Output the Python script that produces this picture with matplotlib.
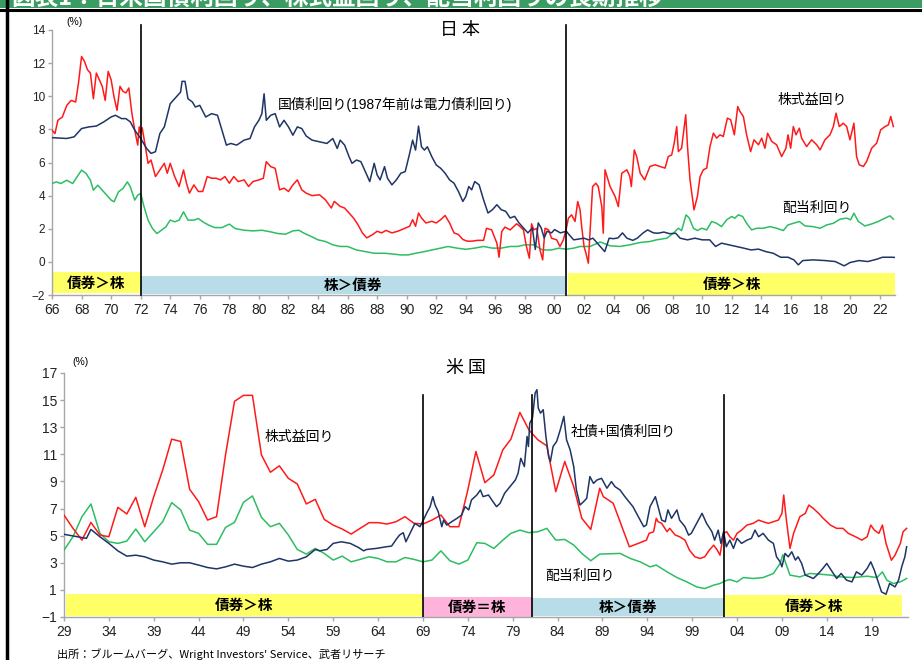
import matplotlib
matplotlib.use("Agg")
import matplotlib.pyplot as plt
from matplotlib.patches import Rectangle

plt.rcParams["font.family"] = ["Liberation Sans", "Noto Sans CJK JP"]

# ---------------- Japan (top panel) ----------------
JP_BOND_YR = [1966.0, 1967.0, 1967.5, 1968.0, 1968.5, 1969.0, 1969.5, 1970.0, 1970.3, 1970.7, 1971.0, 1971.3,
              1971.6, 1972.0, 1972.4, 1972.7, 1973.0, 1973.3, 1973.6, 1974.0, 1974.4, 1974.7, 1974.8, 1975.0,
              1975.2, 1975.5, 1975.7, 1976.0, 1976.4, 1976.8, 1977.2, 1977.5, 1977.8, 1978.1, 1978.5, 1979.0,
              1979.4, 1979.7, 1980.0, 1980.2, 1980.35, 1980.5, 1980.8, 1981.1, 1981.4, 1981.7, 1982.0, 1982.3,
              1982.6, 1982.9, 1983.2, 1983.6, 1984.1, 1984.6, 1985.0, 1985.3, 1985.5, 1985.8, 1986.1, 1986.3,
              1986.6, 1986.9, 1987.2, 1987.5, 1987.8, 1988.0, 1988.2, 1988.5, 1988.7, 1989.0, 1989.3, 1989.6,
              1989.9, 1990.2, 1990.4, 1990.6, 1990.8, 1991.0, 1991.2, 1991.4, 1991.7, 1992.0, 1992.3, 1992.6,
              1992.9, 1993.2, 1993.5, 1993.8, 1994.0, 1994.2, 1994.4, 1994.6, 1994.9, 1995.2, 1995.5, 1995.8,
              1996.1, 1996.4, 1996.7, 1997.0, 1997.3, 1997.6, 1997.9, 1998.2, 1998.5, 1998.7, 1998.9, 1999.1,
              1999.3, 1999.5, 1999.8, 2000.0, 2000.4, 2000.8, 2001.0, 2001.3, 2001.6, 2002.0, 2002.3, 2002.6,
              2002.9, 2003.2, 2003.4, 2003.7, 2004.0, 2004.3, 2004.6, 2004.9, 2005.3, 2005.6, 2006.0, 2006.3,
              2006.7, 2007.0, 2007.4, 2007.8, 2008.2, 2008.5, 2009.0, 2009.5, 2010.0, 2010.5, 2010.9, 2011.3,
              2011.8, 2012.3, 2012.8, 2013.3, 2013.8, 2014.3, 2014.8, 2015.3, 2015.8, 2016.2, 2016.5, 2016.8,
              2017.5, 2018.3, 2019.0, 2019.6, 2020.0, 2020.6, 2021.2, 2021.8, 2022.2, 2022.8, 2023.0]
JP_BOND = [7.5, 7.45, 7.55, 8.05, 8.15, 8.2, 8.45, 8.75, 8.85, 8.65, 8.65, 8.45,
           7.95, 7.45, 6.85, 6.55, 6.65, 7.75, 8.15, 9.55, 9.95, 10.25, 10.9, 10.9,
           9.85, 9.65, 9.35, 9.45, 8.75, 8.95, 8.85, 7.95, 7.05, 7.15, 7.05, 7.35,
           7.45, 8.15, 8.55, 8.95, 10.15, 8.55, 8.85, 8.95, 8.15, 8.55, 8.15, 7.65,
           8.15, 8.05, 7.6, 7.35, 7.25, 7.15, 7.45, 6.85, 7.35, 7.05, 6.35, 5.95,
           6.15, 6.05, 5.45, 4.85, 5.95, 5.25, 4.95, 5.75, 5.05, 4.65, 4.95, 5.35,
           5.45, 6.55, 7.35, 6.75, 8.2, 6.95, 6.75, 6.95, 6.35, 5.85, 5.65, 5.35,
           4.95, 4.75, 4.25, 3.65, 3.95, 4.55, 4.35, 4.85, 4.65, 3.75, 2.95, 3.15,
           3.45, 3.15, 3.05, 2.65, 2.75, 2.35, 2.05, 1.75, 2.05, 0.75, 2.35, 2.05,
           1.45, 1.85, 1.75, 1.95, 1.75, 1.85, 1.63, 1.33, 1.37, 1.43, 1.33, 1.43,
           1.13, 0.83, 0.62, 1.43, 1.4, 1.45, 1.75, 1.43, 1.3, 1.43, 1.75, 1.93,
           1.75, 1.73, 1.8, 1.7, 1.73, 1.43, 1.33, 1.43, 1.33, 1.33, 0.93, 1.13,
           1.03, 0.93, 0.83, 0.72, 0.77, 0.62, 0.52, 0.28, 0.28, 0.12, -0.18, 0.08,
           0.12, 0.08, 0.02, -0.24, -0.04, 0.08, 0.02, 0.16, 0.28, 0.28, 0.27]

JP_EY_YR = [1966.0, 1966.2, 1966.4, 1966.7, 1967.0, 1967.3, 1967.6, 1967.8, 1968.0, 1968.2, 1968.4, 1968.6,
            1968.8, 1969.0, 1969.2, 1969.4, 1969.6, 1969.8, 1970.0, 1970.2, 1970.4, 1970.6, 1970.8, 1971.0,
            1971.2, 1971.4, 1971.6, 1971.8, 1971.9, 1972.0, 1972.1, 1972.3, 1972.5, 1972.7, 1973.0, 1973.3,
            1973.6, 1973.8, 1974.0, 1974.3, 1974.6, 1974.9, 1975.1, 1975.3, 1975.6, 1975.9, 1976.2, 1976.5,
            1976.8, 1977.1, 1977.4, 1977.7, 1978.0, 1978.3, 1978.6, 1979.0, 1979.3, 1979.6, 1980.0, 1980.3,
            1980.5, 1980.8, 1981.1, 1981.4, 1981.7, 1982.0, 1982.3, 1982.6, 1982.9, 1983.2, 1983.6, 1984.1,
            1984.5, 1984.9, 1985.1, 1985.5, 1985.8, 1986.1, 1986.4, 1986.7, 1987.0, 1987.3, 1987.7, 1988.0,
            1988.3, 1988.6, 1989.0, 1989.4, 1989.8, 1990.2, 1990.4, 1990.6, 1990.8, 1991.0, 1991.3, 1991.7,
            1992.0, 1992.3, 1992.6, 1992.9, 1993.2, 1993.5, 1993.8, 1994.1, 1994.4, 1994.8, 1995.2, 1995.4,
            1995.75, 1996.1, 1996.25, 1996.43, 1996.65, 1997.0, 1997.2, 1997.44, 1997.67, 1997.9, 1998.1, 1998.3,
            1998.45, 1998.6, 1998.8, 1999.02, 1999.2, 1999.36, 1999.6, 1999.8, 2000.15, 2000.37, 2000.6, 2000.78,
            2000.94, 2001.16, 2001.39, 2001.57, 2001.73, 2001.84, 2002.0, 2002.13, 2002.29, 2002.4, 2002.58, 2002.8,
            2002.96, 2003.2, 2003.3, 2003.42, 2003.76, 2004.1, 2004.32, 2004.55, 2004.9, 2005.1, 2005.2, 2005.4,
            2005.56, 2005.8, 2006.1, 2006.46, 2006.8, 2007.14, 2007.48, 2007.7, 2007.93, 2008.1, 2008.27, 2008.38,
            2008.6, 2008.88, 2009.0, 2009.17, 2009.44, 2009.67, 2009.85, 2010.07, 2010.3, 2010.52, 2010.75, 2010.97,
            2011.2, 2011.42, 2011.7, 2011.92, 2012.17, 2012.4, 2012.55, 2012.78, 2013.0, 2013.27, 2013.5, 2013.8,
            2014.02, 2014.24, 2014.42, 2014.7, 2015.03, 2015.37, 2015.66, 2015.8, 2015.98, 2016.16, 2016.34, 2016.57,
            2016.72, 2017.06, 2017.4, 2017.74, 2017.97, 2018.3, 2018.64, 2018.87, 2019.05, 2019.27, 2019.54, 2019.77,
            2019.99, 2020.26, 2020.44, 2020.62, 2020.9, 2021.12, 2021.46, 2021.8, 2022.07, 2022.36, 2022.59, 2022.75,
            2022.93]
JP_EY = [7.95, 7.75, 8.55, 8.75, 9.45, 9.75, 9.65, 10.85, 12.4, 12.1, 11.6, 11.4,
         9.85, 11.4, 11.0, 10.6, 9.75, 11.5, 11.0, 9.95, 9.15, 10.6, 10.3, 10.2,
         10.5, 9.0, 7.95, 7.05, 8.15, 7.75, 8.1, 7.05, 5.95, 6.15, 5.15, 5.55,
         5.95, 5.35, 5.95, 5.15, 4.55, 5.55, 4.75, 4.15, 4.65, 4.25, 4.25, 5.15,
         5.05, 5.05, 4.95, 5.15, 4.75, 5.15, 4.85, 4.95, 4.55, 4.85, 4.95, 5.05,
         6.05, 5.75, 5.65, 4.35, 4.45, 4.25, 4.65, 4.95, 4.35, 4.15, 4.0, 4.05,
         3.75, 3.25, 3.65, 3.35, 3.25, 2.95, 2.65, 2.25, 1.75, 1.45, 1.65, 1.85,
         1.75, 1.9, 1.75, 1.85, 2.0, 2.15, 2.55, 2.15, 2.95, 2.65, 2.35, 2.45,
         2.35, 2.55, 2.8, 2.35, 1.75, 1.65, 1.35, 1.25, 1.25, 1.3, 1.3, 2.03,
         1.93, 1.13, 0.28, 1.83, 2.1, 1.93, 2.1, 2.3, 2.13, 1.93, 0.93, 0.22,
         2.3, 1.93, 2.03, 0.72, 0.12, 2.03, 1.93, 1.43, 1.33, 0.93, 1.33, 1.93,
         2.64, 2.84, 2.44, 3.64, 3.14, 2.13, 0.93, 0.52, -0.08, 1.73, 4.55, 4.75,
         4.55, 3.34, 1.73, 5.56, 4.55, 3.95, 3.34, 5.35, 5.56, 5.15, 4.55, 6.76,
         6.36, 5.35, 4.95, 5.76, 5.86, 5.76, 5.66, 6.36, 6.46, 7.17, 8.17, 6.66,
         6.86, 8.88, 6.96, 4.95, 3.14, 3.95, 5.15, 5.56, 5.66, 6.96, 7.77, 7.47,
         7.67, 7.57, 8.68, 8.58, 7.67, 9.38, 9.08, 8.78, 7.67, 6.66, 7.37, 7.07,
         7.47, 6.86, 7.77, 7.27, 7.07, 6.36, 6.86, 7.67, 6.86, 8.17, 7.67, 8.07,
         7.47, 6.96, 7.37, 7.07, 6.76, 7.37, 7.67, 8.17, 8.98, 8.17, 8.37, 8.17,
         7.37, 8.37, 6.36, 5.86, 5.76, 6.06, 6.86, 7.17, 7.97, 8.17, 8.27, 8.78,
         8.17]

JP_DY_YR = [1966.0, 1966.3, 1966.6, 1967.0, 1967.4, 1967.7, 1968.0, 1968.3, 1968.6, 1968.8, 1969.1, 1969.4,
            1969.7, 1970.0, 1970.2, 1970.5, 1970.8, 1971.1, 1971.3, 1971.6, 1971.8, 1972.0, 1972.2, 1972.5,
            1972.8, 1973.1, 1973.4, 1973.7, 1974.0, 1974.3, 1974.6, 1974.9, 1975.2, 1975.6, 1975.9, 1976.2,
            1976.6, 1977.0, 1977.5, 1978.0, 1978.4, 1979.0, 1979.6, 1980.2, 1980.8, 1981.3, 1981.8, 1982.3,
            1982.7, 1983.1, 1983.5, 1984.0, 1984.5, 1985.0, 1985.5, 1986.0, 1986.6, 1987.2, 1987.8, 1988.5,
            1989.0, 1989.6, 1990.1, 1990.6, 1991.2, 1991.7, 1992.3, 1992.8, 1993.4, 1994.0, 1994.6, 1995.2,
            1995.8, 1996.4, 1997.0, 1997.5, 1998.0, 1998.6, 1999.2, 1999.8, 2000.3, 2000.8, 2001.3, 2001.73,
            2002.4, 2003.1, 2003.76, 2004.43, 2005.1, 2005.8, 2006.46, 2006.9, 2007.6, 2008.04, 2008.38, 2008.6,
            2008.9, 2009.12, 2009.4, 2009.67, 2009.96, 2010.3, 2010.64, 2010.97, 2011.3, 2011.65, 2011.99, 2012.2,
            2012.44, 2012.73, 2013.0, 2013.34, 2013.68, 2014.13, 2014.58, 2015.03, 2015.48, 2015.8, 2016.16, 2016.57,
            2016.95, 2017.5, 2017.97, 2018.42, 2018.87, 2019.32, 2019.77, 2020.04, 2020.26, 2020.56, 2021.0, 2021.46,
            2021.91, 2022.36, 2022.7, 2022.93]
JP_DY = [4.73, 4.83, 4.73, 4.93, 4.73, 5.14, 5.54, 5.34, 4.93, 4.33, 4.63, 4.33,
         4.03, 3.73, 3.63, 4.23, 4.43, 4.83, 4.53, 3.73, 4.03, 4.13, 3.42, 2.52,
         2.01, 1.71, 1.91, 2.11, 2.52, 2.42, 2.52, 3.02, 2.52, 2.52, 2.62, 2.42,
         2.22, 2.07, 2.07, 2.28, 2.01, 1.91, 1.87, 1.91, 1.81, 1.71, 1.67, 1.87,
         1.91, 1.71, 1.55, 1.33, 1.23, 1.03, 0.93, 0.93, 0.72, 0.62, 0.52, 0.52,
         0.48, 0.42, 0.42, 0.52, 0.62, 0.72, 0.83, 0.93, 0.83, 0.76, 0.83, 0.93,
         0.83, 0.83, 0.93, 0.93, 1.03, 1.03, 0.72, 0.72, 0.83, 0.76, 0.83, 0.93,
         0.93, 1.2, 0.97, 0.93, 1.03, 1.17, 1.23, 1.33, 1.43, 1.73, 2.03, 1.89,
         2.84, 2.64, 2.03, 1.89, 2.03, 1.93, 2.44, 2.33, 2.13, 2.54, 2.74, 2.64,
         2.84, 2.74, 2.33, 1.93, 2.03, 2.03, 2.13, 2.03, 1.89, 2.23, 2.33, 2.44,
         2.17, 2.13, 2.03, 2.23, 2.33, 2.58, 2.64, 2.54, 2.94, 2.44, 2.17, 2.29,
         2.44, 2.64, 2.78, 2.58]

# ---------------- United States (bottom panel) ----------------
US_EY_YR = [1929, 1930, 1931, 1932, 1933, 1934, 1935, 1936, 1937, 1938, 1939, 1940, 1941, 1942, 1943, 1944,
            1945, 1946, 1947, 1948, 1949, 1950, 1951, 1952, 1953, 1954, 1955, 1956, 1957, 1958, 1959, 1960,
            1961, 1962, 1963, 1964, 1965, 1966, 1967, 1968, 1969, 1970, 1971, 1972, 1973, 1974, 1974.9, 1975.9,
            1976.9, 1977.9, 1978.8, 1979.8, 1980.8, 1981.8, 1982.8, 1983.8, 1984.8, 1985.8, 1986.7, 1987.7,
            1988.7, 1989.1, 1990.2, 1992.0, 1993.0, 1993.9, 1994.2, 1994.7, 1995.0, 1995.2, 1995.6, 1996.2,
            1996.5, 1997.1, 1997.6, 1998.2, 1998.7, 1999.3, 1999.9, 2000.4, 2000.9, 2001.4, 2001.8, 2002.1,
            2002.5, 2002.85, 2003.2, 2003.6, 2004.0, 2004.5, 2005.1, 2005.8, 2006.4, 2006.9, 2007.5, 2008.05,
            2008.6, 2009.0, 2009.2, 2009.5, 2009.9, 2010.3, 2011.0, 2011.6, 2012.0, 2012.5, 2013.1, 2013.6,
            2014.4, 2015.1, 2015.8, 2016.4, 2017.2, 2017.9, 2018.5, 2018.9, 2019.3, 2019.8, 2020.2, 2020.6,
            2021.2, 2021.6, 2022.2, 2022.5, 2022.9]
US_EY = [6.52, 5.54, 4.67, 5.98, 5.05, 4.92, 7.09, 6.6, 7.83, 5.66, 7.88, 9.85, 12.12, 11.95, 8.42, 7.51,
         6.15, 6.4, 10.96, 14.91, 15.35, 15.35, 10.96, 9.68, 10.15, 9.23, 8.81, 7.34, 7.68, 6.2, 5.78, 5.49,
         5.12, 5.54, 5.96, 5.96, 5.86, 6.03, 6.4, 5.91, 5.86, 6.15, 6.52, 5.66, 5.66, 8.37, 11.21, 8.91,
         9.48, 11.33, 12.12, 14.09, 12.81, 12.07, 11.63, 8.25, 10.47, 8.62, 6.28, 5.46,
         8.5, 7.88, 7.39, 4.18, 4.43, 4.67, 5.17, 5.29, 6.28, 6.03, 5.91, 5.29,
         5.54, 5.05, 4.92, 4.67, 3.93, 3.44, 3.32, 3.44, 3.93, 4.3, 3.93, 3.56,
         5.17, 5.29, 4.92, 4.67, 5.17, 5.41, 5.78, 5.91, 6.15, 6.03, 5.91, 6.03,
         6.15, 6.64, 8.0, 6.15, 4.06, 5.17, 6.4, 6.64, 7.26, 7.01, 6.64, 6.28,
         5.78, 5.54, 5.54, 5.17, 4.92, 4.67, 4.92, 5.78, 5.41, 5.17, 5.78, 4.43,
         3.19, 3.56, 4.43, 5.29, 5.54]

US_DY_YR = [1929, 1930, 1931, 1932, 1933, 1934, 1935, 1936, 1937, 1938, 1939, 1940, 1941, 1942, 1943, 1944,
            1945, 1946, 1947, 1948, 1949, 1950, 1951, 1952, 1953, 1954, 1955, 1956, 1957, 1958, 1959, 1960,
            1961, 1962, 1963, 1964, 1965, 1966, 1967, 1968, 1969, 1970, 1971, 1972, 1973, 1974, 1975, 1975.9,
            1976.9, 1977.9, 1978.8, 1979.8, 1980.8, 1981.8, 1982.8, 1983.8, 1984.8, 1985.8, 1986.7, 1987.7,
            1988.7, 1990.96, 1992.1, 1993.2, 1994.3, 1995.0, 1996.2, 1997.3, 1998.4, 1999.5, 2000.4, 2001.4,
            2002.1, 2002.7, 2003.2, 2004.0, 2004.7, 2005.8, 2006.9, 2008.05, 2008.8, 2009.1, 2009.5, 2009.9,
            2011.0, 2012.1, 2013.2, 2014.4, 2015.5, 2017.0, 2018.5, 2019.6, 2020.2, 2020.7, 2021.4, 2022.2,
            2022.9]
US_DY = [3.93, 4.92, 6.4, 7.34, 5.17, 4.55, 4.43, 4.6, 5.49, 4.55, 5.29, 6.03, 7.44, 6.9, 5.41, 5.17,
         4.36, 4.36, 5.61, 5.98, 7.46, 7.93, 6.35, 5.66, 5.91, 5.05, 3.98, 3.64, 4.06, 3.69, 3.2, 3.49,
         3.07, 3.25, 3.44, 3.32, 3.07, 3.07, 3.39, 3.25, 3.07, 3.2, 3.88, 3.15, 2.9, 3.2, 4.48, 4.43,
         4.06, 4.67, 5.17, 5.41, 5.22, 5.29, 5.54, 4.67, 4.72, 4.31, 3.69, 3.15,
         3.64, 3.69, 3.32, 3.07, 2.7, 2.83, 2.33, 1.91, 1.59, 1.22, 1.1, 1.35,
         1.47, 1.67, 1.76, 1.59, 1.91, 1.84, 1.91, 2.21, 2.95, 3.6, 2.83, 2.09,
         1.96, 2.21, 2.16, 2.09, 1.96, 1.91, 2.01, 1.91, 2.33, 1.71, 1.47, 1.59,
         1.84]

US_BOND_YR = [1929.0, 1930.5, 1931.5, 1932.0, 1933.0, 1934.0, 1935.0, 1936.0, 1937.0, 1938.0, 1939.0, 1940.0,
              1941.0, 1942.0, 1943.0, 1944.0, 1945.0, 1946.0, 1947.0, 1948.0, 1949.0, 1950.0, 1951.0, 1952.0,
              1953.0, 1954.0, 1955.0, 1956.0, 1957.0, 1957.5, 1958.3, 1959.0, 1959.9, 1960.9, 1961.8, 1962.4,
              1962.7, 1963.8, 1964.9, 1965.5, 1966.1, 1966.4, 1966.8, 1967.1, 1967.56, 1968.1, 1968.67, 1969.05,
              1969.4, 1969.8, 1970.1, 1970.35, 1970.7, 1971.1, 1971.3, 1971.65, 1972.2, 1972.8, 1973.3, 1973.7,
              1974.1, 1974.4, 1975.0, 1975.4, 1975.7, 1976.3, 1976.8, 1977.2, 1977.6, 1978.1, 1978.7, 1979.3,
              1979.6, 1979.9, 1980.3, 1980.6, 1980.75, 1980.9, 1981.2, 1981.5, 1981.7, 1981.85, 1982.1, 1982.4,
              1982.7, 1983.0, 1983.2, 1983.5, 1983.9, 1984.3, 1984.7, 1985.0, 1985.4, 1985.8, 1986.1, 1986.5,
              1986.9, 1987.25, 1987.6, 1988.0, 1988.4, 1988.9, 1989.5, 1990.0, 1990.4, 1990.96, 1991.5, 1992.1,
              1992.4, 1992.8, 1993.6, 1993.9, 1994.3, 1994.9, 1995.2, 1995.6, 1996.0, 1996.3, 1996.7, 1997.3,
              1997.6, 1998.2, 1998.6, 1998.9, 1999.5, 2000.1, 2000.6, 2001.2, 2001.5, 2001.9, 2002.2, 2002.5,
              2002.8, 2003.2, 2003.6, 2004.0, 2004.5, 2005.1, 2005.6, 2006.0, 2006.4, 2006.9, 2007.5, 2008.05,
              2008.4, 2008.8, 2009.0, 2009.35, 2009.7, 2010.1, 2010.5, 2010.8, 2011.2, 2011.6, 2012.1, 2012.5,
              2012.9, 2013.4, 2014.0, 2014.5, 2015.1, 2015.6, 2016.2, 2016.8, 2017.3, 2017.9, 2018.5, 2018.9,
              2019.3, 2019.6, 2020.1, 2020.6, 2021.0, 2021.6, 2022.0, 2022.35, 2022.7, 2022.9]
US_BOND = [5.1, 4.92, 4.8, 5.46, 4.92, 4.43, 3.88, 3.49, 3.56, 3.44, 3.2, 3.07,
           2.9, 3.0, 3.0, 2.83, 2.65, 2.55, 2.7, 2.9, 2.75, 2.65, 2.9, 3.07,
           3.32, 3.12, 3.2, 3.44, 3.98, 3.88, 3.98, 4.43, 4.55, 4.43, 4.13, 3.88,
           3.98, 4.06, 4.18, 4.23, 4.8, 5.05, 5.22, 4.55, 5.17, 5.9, 5.66, 6.15,
           6.65, 7.14, 7.88, 7.26, 6.77, 5.66, 6.15, 5.78, 6.03, 6.28, 6.52, 7.14,
           6.9, 7.63, 8.0, 8.37, 7.88, 8.0, 7.51, 7.14, 7.39, 8.13, 8.62, 9.11,
           9.6, 10.71, 10.1, 12.32, 11.58, 13.3, 13.67, 15.52, 15.77, 14.41, 14.04, 14.29,
           12.32, 10.84, 10.47, 11.58, 11.95, 12.81, 13.8, 12.07, 11.33, 10.1, 8.37, 7.26,
           7.51, 7.76, 9.36, 8.86, 9.11, 9.23, 8.5, 8.99, 8.62, 8.37, 7.88, 7.39,
           7.14, 6.65, 5.66, 5.79, 7.14, 7.88, 7.14, 6.15, 6.03, 6.9, 6.28, 6.9,
           6.15, 5.66, 5.04, 5.17, 5.91, 6.65, 5.91, 5.29, 4.67, 5.41, 4.43, 5.29,
           4.18, 4.67, 4.06, 4.8, 4.43, 4.67, 4.8, 5.41, 4.92, 5.17, 4.67, 4.43,
           3.44, 3.07, 2.7, 3.69, 3.44, 3.81, 3.2, 3.44, 2.95, 2.09, 1.96, 1.84,
           2.09, 2.45, 2.95, 2.45, 1.84, 2.21, 1.72, 1.59, 2.33, 2.09, 2.58, 3.07,
           2.45, 1.84, 0.85, 0.68, 1.47, 1.22, 1.72, 2.7, 3.44, 4.18]

# regime bands: start, end, low, high, colour key, label
JP_BANDS = [(1966.0, 1971.95, -1.9, -0.6, "y", "債券＞株"),
            (1972.0, 2000.7, -1.93, -0.83, "b", "株＞債券"),
            (2000.93, 2023.1, -2.0, -0.67, "y", "債券＞株")]
US_BANDS = [(1929.2, 1968.9, -0.95, 0.7, "y", "債券＞株"),
            (1969.0, 1981.1, -1.0, 0.48, "p", "債券＝株"),
            (1981.2, 2002.5, -0.95, 0.4, "b", "株＞債券"),
            (2002.7, 2022.4, -0.95, 0.65, "y", "債券＞株")]
JP_SPLITS = [1972.0, 2000.8]
US_SPLITS = [1969.0, 1981.1, 2002.6]

RED = "#ff1a1a"
NAVY = "#1f3566"
GREEN = "#2dbe63"
BAND_COLORS = {"y": "#ffff66", "b": "#b9dde8", "p": "#ffb3da"}
AXIS_GRAY = "#a6a6a6"
JP_FONT = ["Noto Sans CJK JP", "DejaVu Sans"]


def style_axes(ax, xlim, ylim, yticks, xticks, xlabels, ysize):
    ax.set_xlim(*xlim)
    ax.set_ylim(*ylim)
    for s in ("top", "right"):
        ax.spines[s].set_visible(False)
    for s in ("left", "bottom"):
        ax.spines[s].set_color(AXIS_GRAY)
        ax.spines[s].set_linewidth(1.0)
    ax.set_yticks(yticks)
    ax.set_xticks(xticks)
    ax.set_xticklabels(xlabels)
    ax.tick_params(axis="both", color=AXIS_GRAY, length=3, width=1, colors="#222222")
    ax.tick_params(axis="y", labelsize=ysize, pad=2)
    ax.tick_params(axis="x", labelsize=10, pad=3)
    ax.patch.set_alpha(0)


def draw_bands(ax, bands):
    for x0, x1, lo, hi, c, lab in bands:
        ax.add_patch(Rectangle((x0, lo), x1 - x0, hi - lo, color=BAND_COLORS[c], lw=0, zorder=1))
        ax.text((x0 + x1) / 2, (lo + hi) / 2, lab, ha="center", va="center", fontsize=10.5,
                fontweight="bold", family=JP_FONT, zorder=5)


fig = plt.figure(figsize=(9.22, 6.6), dpi=100)

# green title strip (mostly cut off) and frame lines
fig.patches.append(Rectangle((0, 1 - 8 / 660), 1, 8 / 660, transform=fig.transFigure,
                             color="#3a9c62", lw=0))
fig.text(0.012, 1 - 5 / 660, "図表1：日米国債利回り、株式益回り、配当利回りの長期推移",
         color="white", fontsize=17, fontweight="bold", family=JP_FONT, va="baseline")
fig.add_artist(plt.Line2D([0, 1], [1 - 9.5 / 660] * 2, transform=fig.transFigure, color="black", lw=2.2))
fig.add_artist(plt.Line2D([6.5 / 922] * 2, [0, 1], transform=fig.transFigure, color="black", lw=2.5))

# ---- Japan ----
ax1 = fig.add_axes([52 / 922, 1 - 295 / 660, 843 / 922, 265 / 660])
jp_years = list(range(1966, 2023, 2))
style_axes(ax1, (1966, 2023.04), (-2, 14), range(-2, 15, 2), jp_years,
           [f"{y % 100:02d}" for y in jp_years], 8.5)
draw_bands(ax1, JP_BANDS)
ax1.plot(JP_DY_YR, JP_DY, color=GREEN, lw=1.1, zorder=3)
ax1.plot(JP_EY_YR, JP_EY, color=RED, lw=1.1, zorder=3)
ax1.plot(JP_BOND_YR, JP_BOND, color=NAVY, lw=1.1, zorder=4)
for x in JP_SPLITS:
    ax1.plot([x, x], [-2, 14.3], color="black", lw=1.2, clip_on=False, zorder=6)
ax1.text(1993.6, 14.0, "日 本", ha="center", va="center", fontsize=13, family=JP_FONT)
ax1.text(1981.3, 9.48, "国債利回り(1987年前は電力債利回り)", ha="left", va="center", fontsize=10)
ax1.text(2015.1, 9.78, "株式益回り", ha="left", va="center", fontsize=10, family=JP_FONT)
ax1.text(2015.4, 3.26, "配当利回り", ha="left", va="center", fontsize=10, family=JP_FONT)
ax1.text(1967.0, 14.5, "(%)", ha="left", va="center", fontsize=7.5, clip_on=False)

# ---- United States ----
ax2 = fig.add_axes([64 / 922, 1 - 617 / 660, 844 / 922, 244 / 660])
us_years = list(range(1929, 2020, 5))
style_axes(ax2, (1929, 2023.05), (-1, 17), range(-1, 18, 2), us_years,
           [f"{y % 100:02d}" for y in us_years], 10)
draw_bands(ax2, US_BANDS)
ax2.plot(US_DY_YR, US_DY, color=GREEN, lw=1.1, zorder=3)
ax2.plot(US_EY_YR, US_EY, color=RED, lw=1.1, zorder=3)
ax2.plot(US_BOND_YR, US_BOND, color=NAVY, lw=1.1, zorder=4)
for x in US_SPLITS:
    ax2.plot([x, x], [-1, 15.4], color="black", lw=1.2, zorder=6)
ax2.text(1973.8, 17.4, "米 国", ha="center", va="center", fontsize=13, family=JP_FONT, clip_on=False)
ax2.text(1951.4, 12.3, "株式益回り", ha="left", va="center", fontsize=10, family=JP_FONT)
ax2.text(1985.5, 12.66, "社債+国債利回り", ha="left", va="center", fontsize=10)
ax2.text(1982.6, 2.01, "配当利回り", ha="left", va="center", fontsize=10, family=JP_FONT)
ax2.text(1929.9, 17.8, "(%)", ha="left", va="center", fontsize=7.5, clip_on=False)

fig.text(57 / 922, 1 - 654 / 660, "出所：ブルームバーグ、Wright Investors' Service、武者リサーチ",
         fontsize=8, va="center", family=JP_FONT)

fig.savefig("out.png", dpi=100)
